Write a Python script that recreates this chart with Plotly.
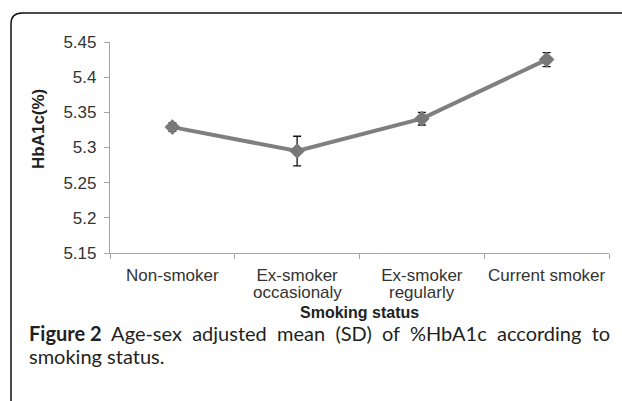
import plotly.graph_objects as go

# Smoking-status groups and age-sex adjusted mean HbA1c (%) with SD
categories = ["Non-smoker", "Ex-smoker occasionaly", "Ex-smoker regularly", "Current smoker"]
label_line1 = ["Non-smoker", "Ex-smoker", "Ex-smoker", "Current smoker"]
label_line2 = ["", "occasionaly", "regularly", ""]
hba1c_mean = [5.329, 5.295, 5.341, 5.425]
hba1c_sd = [0.006, 0.021, 0.009, 0.010]
y_ticks = [5.15, 5.2, 5.25, 5.3, 5.35, 5.4, 5.45]
y_tick_text = ["5.15", "5.2", "5.25", "5.3", "5.35", "5.4", "5.45"]

W, H = 622, 401
L, R, T, B = 110, 13, 42, 148
PW, PH = W - L - R, H - T - B


def px(x):
    return (x - L) / PW


def py(y):
    return (H - B - y) / PH


axis_font = dict(family="Liberation Sans, Arial, sans-serif", size=17, color="#333333")
title_font = dict(family="Liberation Sans, Arial, sans-serif", size=16, color="#222222")

fig = go.Figure()
fig.add_trace(go.Scatter(
    x=categories,
    y=hba1c_mean,
    mode="lines+markers",
    line=dict(color="#7f7f7f", width=4),
    marker=dict(symbol="diamond", size=12, color="#787878"),
    error_y=dict(type="data", array=hba1c_sd, visible=True,
                 color="#111111", thickness=1.3, width=4),
    showlegend=False,
))

fig.update_layout(
    width=W, height=H,
    margin=dict(l=L, r=R, t=T, b=B, autoexpand=False),
    paper_bgcolor="white",
    plot_bgcolor="white",
    xaxis=dict(
        type="category",
        categoryarray=categories,
        range=[-0.5, 3.5],
        tickvals=categories, ticktext=label_line1,
        showline=True, linecolor="#a6a6a6", linewidth=1.2,
        ticks="outside", tickson="boundaries", ticklen=5, tickcolor="#a6a6a6",
        showgrid=False, zeroline=False,
        tickfont=axis_font, tickangle=0, automargin=False,
        ticklabelstandoff=6,
    ),
    yaxis=dict(
        range=[5.15, 5.45],
        tickvals=y_ticks, ticktext=y_tick_text,
        showline=True, linecolor="#a6a6a6", linewidth=1.2,
        ticks="outside", ticklen=5, tickcolor="#a6a6a6",
        showgrid=False, zeroline=False,
        tickfont=axis_font, automargin=False,
        ticklabelstandoff=4,
    ),
)

# second line of the two-line category labels
for cat, line2 in zip(categories, label_line2):
    if line2:
        fig.add_annotation(
            text=line2, xref="x", yref="paper", x=cat, y=py(292),
            showarrow=False, xanchor="center", yanchor="middle",
            font=axis_font,
        )

# axis titles
fig.add_annotation(
    text="<b>HbA1c(%)</b>", textangle=-90,
    xref="paper", yref="paper", x=px(38), y=py(129),
    showarrow=False, xanchor="center", yanchor="middle",
    font=dict(title_font, size=17),
)
fig.add_annotation(
    text="<b>Smoking status</b>",
    xref="paper", yref="paper", x=0.5, y=py(312),
    showarrow=False, xanchor="center", yanchor="middle",
    font=title_font,
)

# figure caption, first line spread across the full panel width
cap_font = dict(family="Lato, sans-serif", size=20, color="#231f20")
gap = " \u00a0"
cap_words = ["<b>Figure\u00a02</b>", "Age-sex", "adjusted", "mean", "(SD)", "of", "%HbA1c", "according", "to"]
fig.add_annotation(
    text=gap.join(cap_words),
    xref="paper", yref="paper", x=px(27), y=py(333),
    showarrow=False, xanchor="left", yanchor="middle", font=cap_font,
)
fig.add_annotation(
    text="smoking status.",
    xref="paper", yref="paper", x=px(27), y=py(356),
    showarrow=False, xanchor="left", yanchor="middle", font=cap_font,
)

# panel frame with a rounded top-left corner
fig.add_shape(
    type="path", xref="paper", yref="paper",
    path=(f"M {px(11)},{py(402)} L {px(11)},{py(24)} "
          f"Q {px(11)},{py(13)} {px(22)},{py(13)} L {px(623)},{py(13)}"),
    line=dict(color="#111111", width=1.5),
)

fig.write_html("out.html")
